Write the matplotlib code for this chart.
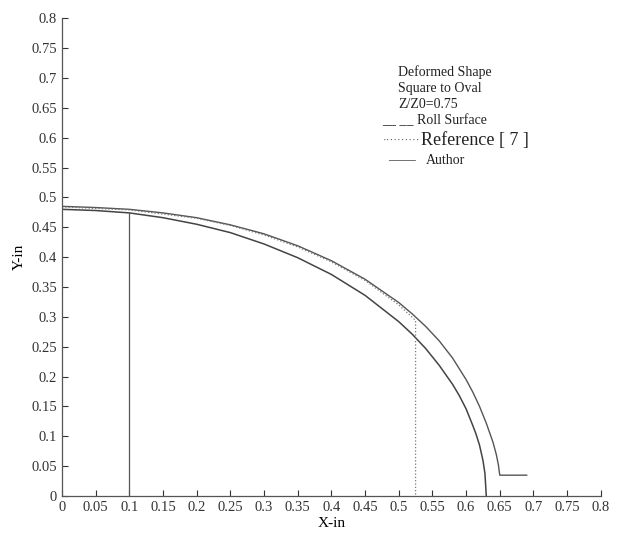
import numpy as np
import matplotlib.pyplot as plt

plt.rcParams['font.family'] = ['Liberation Serif', 'DejaVu Serif']

# author profile (solid inner curve)
author_x = [0, 0.05, 0.1, 0.15, 0.2, 0.25, 0.3, 0.35, 0.4, 0.45, 0.5, 0.52, 0.54, 0.56, 0.58,
            0.59, 0.6, 0.61, 0.615, 0.62, 0.625, 0.628, 0.63]
author_y = [0.480, 0.478, 0.474, 0.466, 0.455, 0.441, 0.422, 0.399, 0.371, 0.336, 0.292, 0.271,
            0.247, 0.219, 0.187, 0.168, 0.146, 0.118, 0.103, 0.085, 0.060, 0.038, 0.0]

# roll surface (outer curve with flat tail)
roll_x = [0, 0.05, 0.1, 0.15, 0.2, 0.25, 0.3, 0.35, 0.4, 0.45, 0.5, 0.52, 0.54, 0.56, 0.58,
          0.6, 0.61, 0.62, 0.63, 0.64, 0.645, 0.648, 0.65, 0.69]
roll_y = [0.485, 0.483, 0.480, 0.474, 0.466, 0.454, 0.439, 0.419, 0.394, 0.363, 0.324, 0.305,
          0.284, 0.260, 0.231, 0.195, 0.174, 0.150, 0.122, 0.090, 0.069, 0.052, 0.035, 0.035]

# reference [7] (dotted)
ref_x = [0, 0.1, 0.2, 0.25, 0.3, 0.35, 0.4, 0.45, 0.5, 0.525, 0.525]
ref_y = [0.484, 0.479, 0.465, 0.453, 0.437, 0.417, 0.392, 0.361, 0.320, 0.294, 0.0]

# vertical section line
sec_x = [0.1, 0.1]
sec_y = [0.0, 0.474]

xticks = np.arange(0, 0.81, 0.05)
yticks = np.arange(0, 0.81, 0.05)

fig = plt.figure(figsize=(6.2, 5.34), dpi=100)
ax = fig.add_axes([0.1, 0.071, 0.869, 0.895])

col = '#555555'
ax.plot(roll_x, roll_y, color=col, lw=1.0)
ax.plot(author_x, author_y, color='#444444', lw=1.1)
ax.plot(ref_x, ref_y, color='#777777', lw=0.9, ls=':')
ax.plot(sec_x, sec_y, color=col, lw=0.9)

ax.set_xlim(0, 0.8)
ax.set_ylim(0, 0.8)
ax.set_xticks(xticks)
ax.set_yticks(yticks)
ax.set_xticklabels(['0' if v == 0 else f'{v:g}' for v in np.round(xticks, 2)])
ax.set_yticklabels(['0' if v == 0 else f'{v:g}' for v in np.round(yticks, 2)])
ax.tick_params(direction='in', length=4, width=0.8, labelsize=10.5, colors='#333333')
for s in ['top', 'right']:
    ax.spines[s].set_visible(False)
for s in ['left', 'bottom']:
    ax.spines[s].set_color('#555555')
    ax.spines[s].set_linewidth(0.9)

ax.set_xlabel('X-in', fontsize=11, labelpad=2)
ax.set_ylabel('Y-in', fontsize=11, labelpad=4)

tc = '#222222'
ax.text(0.499, 0.71, 'Deformed Shape', fontsize=10, color=tc, va='center')
ax.text(0.499, 0.683, 'Square to Oval', fontsize=10, color=tc, va='center')
ax.text(0.499, 0.656, 'Z/Z0=0.75', fontsize=10, color=tc, va='center')
ax.text(0.476, 0.628, '__ __ Roll Surface', fontsize=10, color=tc, va='center')
ax.text(0.476, 0.596, '··········', fontsize=8, color='#555555', va='center')
ax.text(0.533, 0.596, 'Reference [ 7 ]', fontsize=13, color=tc, va='center')
ax.text(0.484, 0.561, '——', fontsize=10, color='#444444', va='center')
ax.text(0.54, 0.561, 'Author', fontsize=10, color=tc, va='center')

fig.savefig('out.png', dpi=100)
